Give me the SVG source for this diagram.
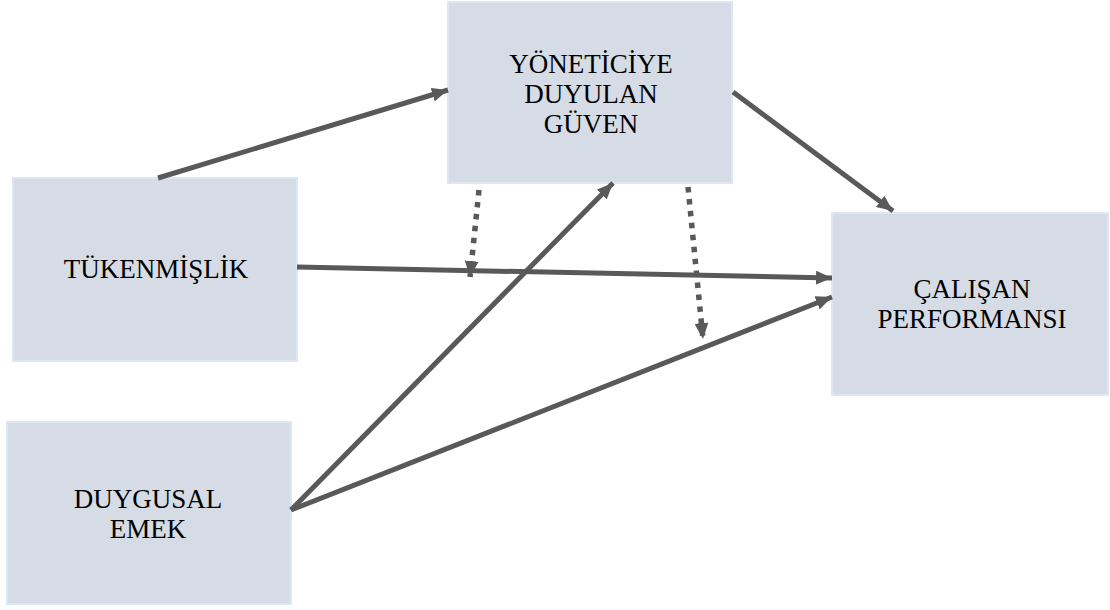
<svg xmlns="http://www.w3.org/2000/svg" width="1110" height="610" viewBox="0 0 1110 610">
<style>
.box{fill:#d6dce5;stroke:#dde7f4;stroke-width:2}
.lbl{font-family:"Liberation Serif","Times New Roman",serif;font-size:27px;fill:#000;text-anchor:middle}
.conn{stroke:#595959;stroke-width:5;fill:none}
.dot{stroke:#595959;stroke-width:5.5;fill:none;stroke-dasharray:5.5 6.5}
</style>
<defs>
<marker id="ah" viewBox="0 0 16 14" refX="16" refY="7" markerWidth="16" markerHeight="14" markerUnits="userSpaceOnUse" orient="auto">
<path d="M0,0 L16,7 L0,14 Z" fill="#595959"/>
</marker>
</defs>
<rect width="1110" height="610" fill="#fff"/>
<g id="node-guven">
<rect class="box" x="448" y="2" width="284" height="181"/>
<text class="lbl" x="591" y="73">YÖNETİCİYE</text>
<text class="lbl" x="591" y="103">DUYULAN</text>
<text class="lbl" x="591" y="133">GÜVEN</text>
</g>
<g id="node-tukenmislik">
<rect class="box" x="13" y="178" width="284" height="183"/>
<text class="lbl" x="156" y="278">TÜKENMİŞLİK</text>
</g>
<g id="node-performans">
<rect class="box" x="832" y="213" width="276" height="182"/>
<text class="lbl" x="972" y="298">ÇALIŞAN</text>
<text class="lbl" x="972" y="328">PERFORMANSI</text>
</g>
<g id="node-emek">
<rect class="box" x="7" y="422" width="284" height="182"/>
<text class="lbl" x="148" y="508">DUYGUSAL</text>
<text class="lbl" x="148" y="538">EMEK</text>
</g>
<g id="connectors">
<line class="conn" x1="158" y1="178" x2="448" y2="90" marker-end="url(#ah)"/>
<line class="conn" x1="733" y1="92" x2="893" y2="211" marker-end="url(#ah)"/>
<line class="conn" x1="297" y1="267" x2="832" y2="278" marker-end="url(#ah)"/>
<line class="conn" x1="291" y1="510" x2="613" y2="183" marker-end="url(#ah)"/>
<line class="conn" x1="291" y1="510" x2="832" y2="297" marker-end="url(#ah)"/>
<line class="dot" x1="479" y1="190" x2="470" y2="277" marker-end="url(#ah)"/>
<line class="dot" x1="688" y1="187" x2="703" y2="339" marker-end="url(#ah)"/>
</g>
</svg>
